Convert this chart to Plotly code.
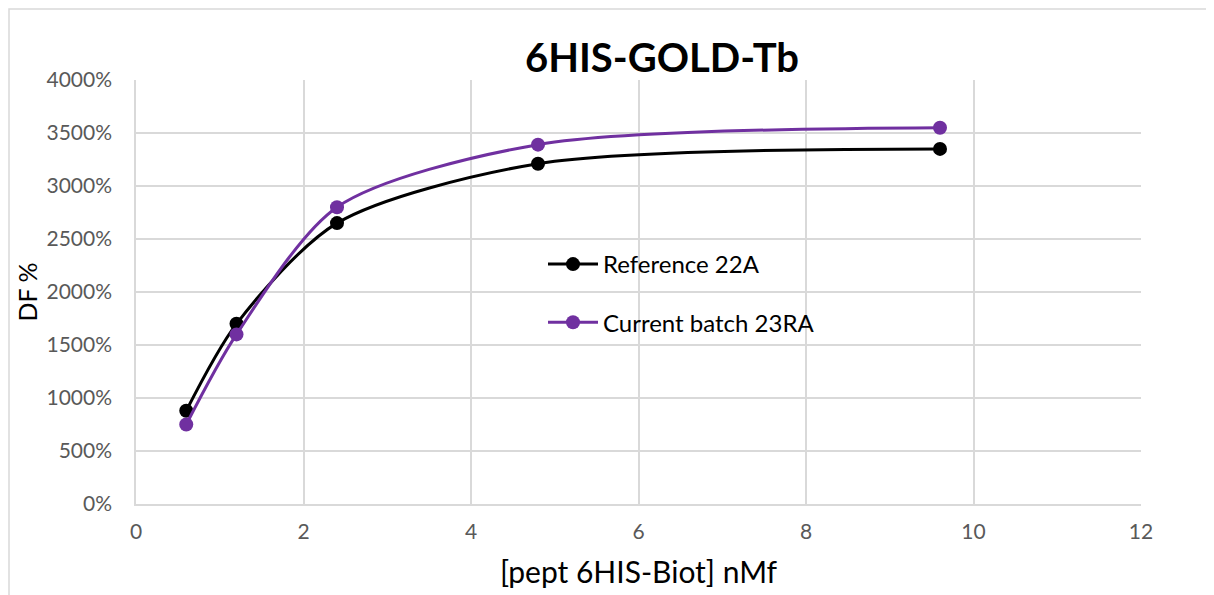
import plotly.graph_objects as go

x_vals = [0.6, 1.2, 2.4, 4.8, 9.6]
reference_22a = [880, 1700, 2650, 3210, 3350]
current_23ra = [750, 1600, 2800, 3390, 3550]
series_names = ["Reference 22A", "Current batch 23RA"]
y_ticks = [0, 500, 1000, 1500, 2000, 2500, 3000, 3500, 4000]
x_ticks = [0, 2, 4, 6, 8, 10, 12]

FONT = "Lato"
SMOOTH = 0.8
fig = go.Figure()
fig.add_trace(go.Scatter(x=x_vals, y=reference_22a, name=series_names[0], mode="lines+markers",
                         line=dict(color="black", width=3, shape="spline", smoothing=SMOOTH),
                         marker=dict(color="black", size=14), legendgroup="a"))
fig.add_trace(go.Scatter(x=x_vals, y=current_23ra, name=series_names[1], mode="lines+markers",
                         line=dict(color="#7030a0", width=3, shape="spline", smoothing=SMOOTH),
                         marker=dict(color="#7030a0", size=14), legendgroup="b"))

OFF = 8  # page body offset
L, R, T, B = 136, 1141, 80, 504
W, H = 1214, 595
fig.update_layout(
    width=W, height=H,
    margin=dict(l=L - OFF, r=W - R + OFF, t=T - OFF, b=H - B + OFF),
    paper_bgcolor="white", plot_bgcolor="white",
    font=dict(family=FONT, color="#595959", size=21),
    title=dict(text="<b>6HIS-GOLD-Tb</b>", x=(662 - OFF) / W, xref="container", xanchor="center",
               y=1 - (58 - OFF) / H, yref="container", yanchor="middle",
               font=dict(family=FONT, size=40, color="black")),
    xaxis=dict(range=[0, 12], tickvals=x_ticks, showgrid=True, gridcolor="#d9d9d9", gridwidth=1.5,
               zeroline=False, showline=True, linecolor="#d9d9d9", linewidth=1.5,
               ticks="", ticklen=0, ticklabelstandoff=8,
               title=dict(text="[pept 6HIS-Biot] nMf", font=dict(family=FONT, size=30, color="black"), standoff=20)),
    yaxis=dict(range=[0, 4000], tickvals=y_ticks, ticktext=[f"{v}%" for v in y_ticks],
               showgrid=True, gridcolor="#d9d9d9", gridwidth=1.5, zeroline=False,
               showline=True, linecolor="#d9d9d9", linewidth=1.5, ticks="", ticklabelstandoff=18,
               title=dict(text="DF %", font=dict(family=FONT, size=25, color="black"), standoff=2)),
    legend=dict(x=(543 - L) / (R - L), y=(B - 242) / (B - T), xanchor="left", yanchor="top",
                bgcolor="rgba(0,0,0,0)", font=dict(family=FONT, size=24, color="black"),
                traceorder="grouped", tracegroupgap=24, itemwidth=50),
    shapes=[dict(type="rect", xref="paper", yref="paper",
                 x0=(9 - L) / (R - L), x1=(W + 20 - L) / (R - L),
                 y0=(B - (H + 20)) / (B - T), y1=(B - 9) / (B - T),
                 line=dict(color="#d9d9d9", width=1.5), layer="below")],
)
fig.write_html("out.html")
